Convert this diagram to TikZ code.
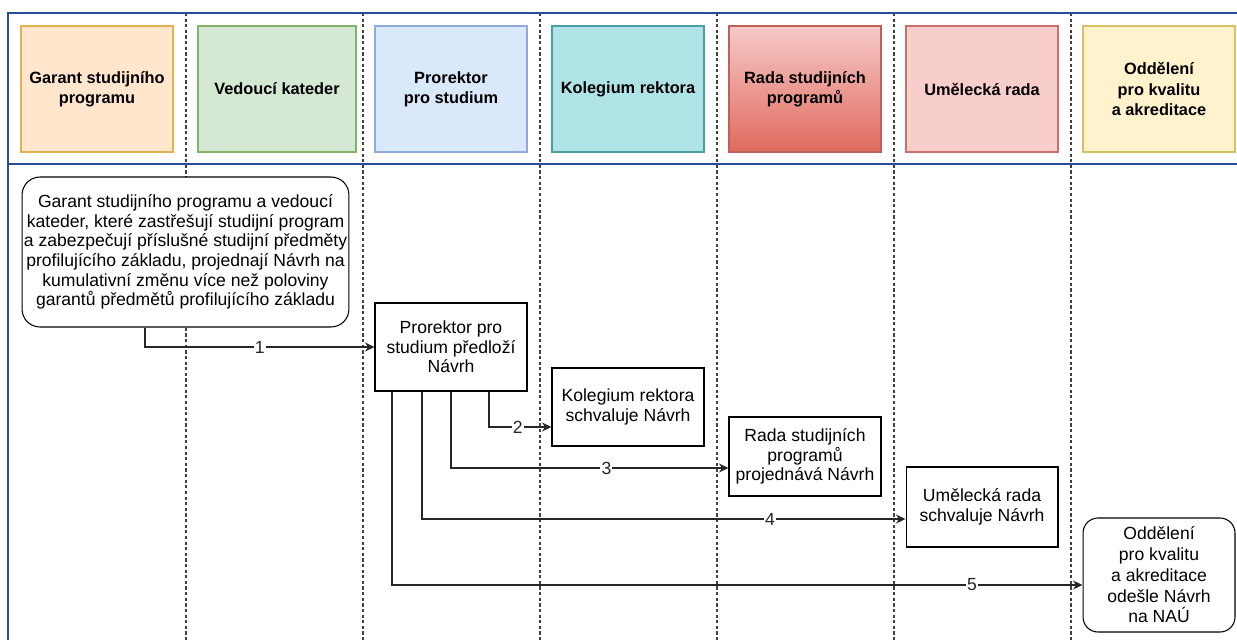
\documentclass[tikz,border=0pt]{standalone}
\usepackage{fontspec}
\setmainfont{Liberation Sans}
\usetikzlibrary{arrows.meta}

\definecolor{framecol}{RGB}{40,76,156}
\definecolor{orfill}{HTML}{FFE6CC}\definecolor{ordraw}{RGB}{226,178,80}
\definecolor{grfill}{HTML}{D5E8D4}\definecolor{grdraw}{HTML}{82B366}
\definecolor{blfill}{HTML}{DAE8FC}\definecolor{bldraw}{HTML}{8FAADC}
\definecolor{tefill}{HTML}{B0E3E6}\definecolor{tedraw}{HTML}{4A9FA3}
\definecolor{retop}{HTML}{F6CAC7}\definecolor{rebot}{HTML}{E06A5E}
\definecolor{redraw}{HTML}{C0605A}
\definecolor{pkfill}{HTML}{F8CECC}\definecolor{pkdraw}{HTML}{C9706B}
\definecolor{yefill}{HTML}{FFF2CC}\definecolor{yedraw}{HTML}{D6C060}

\begin{document}
\begin{tikzpicture}[x=0.02cm, y=-0.02cm,
    head/.style={draw, line width=0.7pt, minimum width=3.04cm, minimum height=2.52cm,
      inner sep=0pt, align=center, font=\fontsize{9.3}{11.4}\selectfont\bfseries},
    task/.style={draw, line width=0.6pt, fill=white, minimum width=3.04cm,
      inner sep=0pt, align=center, font=\fontsize{10}{11.2}\selectfont},
    lane/.style={line width=0.7pt, black!75, dash pattern=on 1.8pt off 1.4pt},
    arr/.style={-{Stealth[length=1.9mm,width=1.8mm]}, line width=0.6pt, black!85},
    num/.style={fill=white, inner sep=0.6pt, font=\fontsize{10}{11}\selectfont}]
    \useasboundingbox (0,0) rectangle (1237,640);

    % lanes and frame
    \foreach \x in {186,363,...,1071}
        \draw[lane] (\x,13) -- (\x,640);
    \draw[framecol, line width=1.4pt] (8,640) -- (8,13) -- (1237,13);
    \draw[framecol, line width=1.4pt] (8,164) -- (1237,164);

    % lane heads
    \node[head, fill=orfill, draw=ordraw] (hgarant) at (97,89) {Garant studijního\\programu};
    \node[head, fill=grfill, draw=grdraw, minimum width=3.16cm] (hvedouci) at (277,89) {Vedoucí kateder};
    \node[head, fill=blfill, draw=bldraw] (hprorektor) at (451,89) {Prorektor\\pro studium};
    \node[head, fill=tefill, draw=tedraw] (hkolegium) at (628,89) {Kolegium rektora};
    \node[head, top color=retop, bottom color=rebot, draw=redraw] (hrada) at (805,89) {Rada studijních\\programů};
    \node[head, fill=pkfill, draw=pkdraw] (humel) at (982,89) {Umělecká rada};
    \node[head, fill=yefill, draw=yedraw] (hoddel) at (1159,89) {Oddělení\\pro kvalitu\\a akreditace};

    % steps
    \node[task, rounded corners=0.36cm, minimum width=6.54cm, minimum height=3cm] (garant) at (185.5,252)
        {Garant studijního programu a vedoucí\\kateder, které zastřešují studijní program\\a zabezpečují příslušné studijní předměty\\profilujícího základu, projednají Návrh na\\kumulativní změnu více než poloviny\\garantů předmětů profilujícího základu};
    \node[task, minimum height=1.76cm] (pror) at (451,347) {Prorektor pro\\studium předloží\\Návrh};
    \node[task, minimum height=1.56cm] (kol) at (628,407) {Kolegium rektora\\schvaluje Návrh};
    \node[task, minimum height=1.58cm] (rada) at (805,456.5) {Rada studijních\\programů\\projednává Návrh};
    \node[task, minimum height=1.6cm] (umel) at (982,507) {Umělecká rada\\schvaluje Návrh};
    \node[task, rounded corners=0.3cm, minimum height=2.28cm, font=\fontsize{10}{11.8}\selectfont] (oddel) at (1159,575)
        {Oddělení\\pro kvalitu\\a akreditace\\odešle Návrh\\na NAÚ};

    % flow
    \draw[arr] (garant.south -| 145,0) |- node[num, pos=0.75] {1} (pror.west);
    \draw[arr] (pror.south -| 489,0) |- node[num, pos=0.73] {2} (kol.west |- 0,427);
    \draw[arr] (pror.south -| 451,0) |- node[num, pos=0.78] {3} (rada.west |- 0,468);
    \draw[arr] (pror.south -| 422,0) |- node[num, pos=0.86] {4} (umel.west |- 0,519);
    \draw[arr] (pror.south -| 392,0) |- node[num, pos=0.92] {5} (oddel.west |- 0,585);
\end{tikzpicture}
\end{document}
